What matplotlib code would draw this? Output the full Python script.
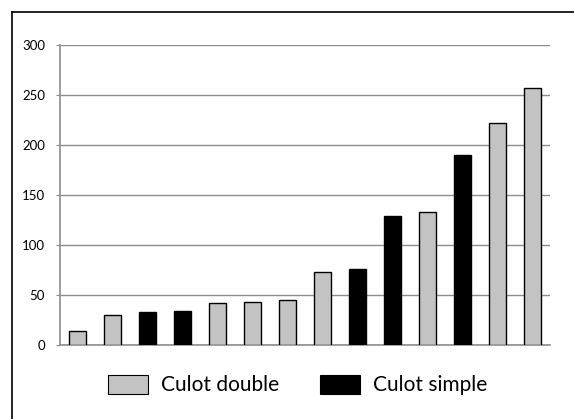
import matplotlib
matplotlib.use("Agg")
import matplotlib.pyplot as plt
from matplotlib.lines import Line2D
from matplotlib.patches import Patch

values = [14, 30, 33, 34, 42, 43, 45, 73, 76, 129, 133, 190, 222, 257]
types = ["double", "double", "simple", "simple", "double", "double", "double",
         "double", "simple", "simple", "double", "simple", "double", "double"]
labels = {"double": "Culot double", "simple": "Culot simple"}
colors = {"double": "#c3c3c3", "simple": "#000000"}
yticks = [0, 50, 100, 150, 200, 250, 300]

plt.rcParams['font.family'] = ['Lato', 'DejaVu Sans']

W, H = 574, 419
fig = plt.figure(figsize=(W / 100, H / 100), dpi=100)
ax = fig.add_axes([60 / W, 1 - 344.5 / H, (550 - 60) / W, (344.5 - 45) / H])

x = list(range(len(values)))
ax.bar(x, values, width=0.47, color=[colors[t] for t in types],
       edgecolor="black", linewidth=1.0, zorder=3)
ax.set_xlim(-0.5, len(values) - 0.5)
ax.set_ylim(0, 300)
ax.set_yticks(yticks)
ax.set_yticklabels([str(v) for v in yticks], fontsize=9.5)
ax.set_xticks([])
ax.yaxis.grid(True, color="#8c8c8c", linewidth=1.0, zorder=0)
for s in ["top", "right"]:
    ax.spines[s].set_visible(False)
for s in ["left", "bottom"]:
    ax.spines[s].set_color("#8c8c8c")
    ax.spines[s].set_linewidth(1.2)
ax.tick_params(axis="y", length=3, color="#8c8c8c", pad=7.8)

handles = [Patch(facecolor=colors[k], edgecolor="black", linewidth=0.8, label=labels[k])
           for k in ["double", "simple"]]
fig.legend(handles=handles, loc="center left", bbox_to_anchor=(108 / W, 1 - 385 / H),
           ncol=2, frameon=False, fontsize=15, handlelength=1.92, handleheight=1.06,
           columnspacing=1.97, handletextpad=0.62, borderpad=0, borderaxespad=0)

fig.add_artist(Line2D([12 / W, 12 / W], [0, 1 - 12.5 / H], color="black", linewidth=1.2,
                      transform=fig.transFigure))
fig.add_artist(Line2D([12 / W, 1], [1 - 12.5 / H, 1 - 12.5 / H], color="black", linewidth=1.2,
                      transform=fig.transFigure))

fig.savefig("out.png", dpi=100)
